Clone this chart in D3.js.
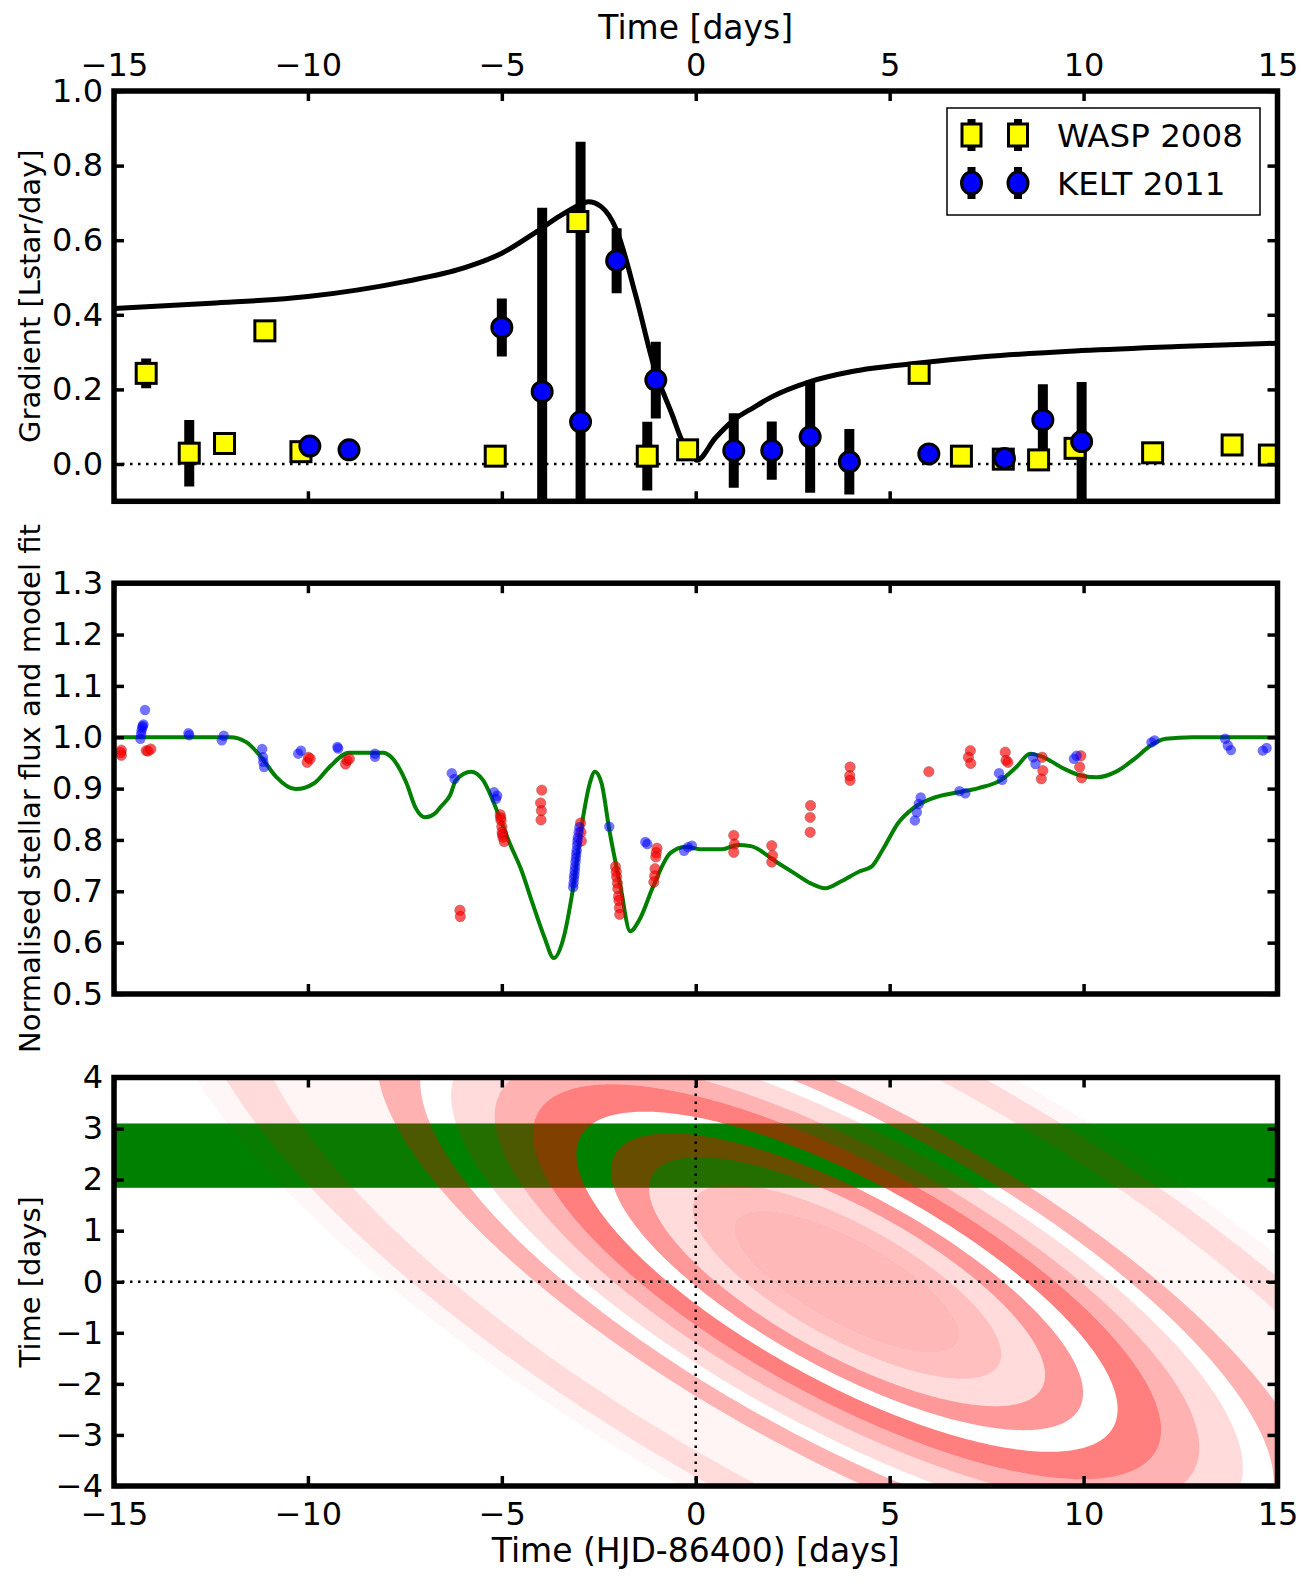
<!DOCTYPE html>
<meta charset="utf-8">
<script src="https://d3js.org/d3.v7.min.js"></script>
<style>
  body { margin: 0; background: #fff; }
  text { font-family: "DejaVu Sans", sans-serif; }
</style>
<div id="chart"></div>
<script>

// ---------------------------//
//            DATA            //
// ---------------------------//

const timeTicks = [-15, -10, -5, 0, 5, 10, 15];
const gradTicks = [0.0, 0.2, 0.4, 0.6, 0.8, 1.0];
const fluxTicks = [0.5, 0.6, 0.7, 0.8, 0.9, 1.0, 1.1, 1.2, 1.3];
const offsetTicks = [-4, -3, -2, -1, 0, 1, 2, 3, 4];

// gradient measurements: [time, gradient, error]
const waspGrad = [
  [-14.17, 0.243, 0.04], [-13.06, 0.029, 0.089], [-12.15, 0.055, 0.01], [-11.11, 0.357, 0.01],
  [-10.18, 0.033, 0.01], [-5.17, 0.021, 0.01], [-3.04, 0.65, 0.01], [-1.25, 0.021, 0.092],
  [-0.21, 0.038, 0.01], [5.76, 0.243, 0.01], [6.85, 0.021, 0.01], [7.93, 0.013, 0.01],
  [8.84, 0.011, 0.01], [9.78, 0.042, 0.01], [11.78, 0.030, 0.01], [13.83, 0.051, 0.01],
  [14.79, 0.024, 0.01]
];
const keltGrad = [
  [-9.95, 0.048, 0.01], [-8.94, 0.038, 0.01], [-5.0, 0.366, 0.078], [-3.96, 0.194, 0.493],
  [-2.97, 0.113, 0.751], [-2.04, 0.545, 0.087], [-1.03, 0.225, 0.103], [0.98, 0.036, 0.10],
  [1.96, 0.036, 0.078], [2.95, 0.073, 0.15], [3.96, 0.006, 0.088], [6.01, 0.027, 0.01],
  [7.96, 0.015, 0.01], [8.95, 0.118, 0.096], [9.95, 0.060, 0.16]
];

// model gradient curve
const modelGradT = [-15, -12.5, -10, -7.5, -6, -5, -4.1, -3.5, -3.0, -2.77, -2.44, -2.04, -1.54,
  -1.05, -0.6, -0.36, -0.1, 0.03, 0.5, 0.98, 1.5, 1.96, 2.95, 4.03, 5.7, 7.48, 9.95, 12.42, 15];
const modelGrad = [0.417, 0.431, 0.449, 0.489, 0.525, 0.565, 0.623, 0.665, 0.694, 0.703, 0.69, 0.627,
  0.449, 0.252, 0.13, 0.064, 0.025, 0.01, 0.069, 0.118, 0.152, 0.18, 0.221, 0.248, 0.27, 0.288,
  0.304, 0.315, 0.324];

// model light curve
const modelFluxT = [-15, -12.0, -11.6, -11.21, -10.82, -10.32, -9.83, -9.43, -8.94, -8.05, -7.86,
  -7.46, -7.22, -6.97, -6.72, -6.57, -6.33, -6.18, -5.79, -5.49, -5.1, -4.8, -4.5, -4.21, -3.91,
  -3.66, -3.42, -3.17, -2.93, -2.73, -2.6, -2.43, -2.23, -1.94, -1.69, -1.45, -1.1, -0.66, -0.26,
  0.11, 0.68, 1.07, 1.42, 2.06, 2.55, 2.95, 3.34, 3.74, 4.23, 4.53, 4.82, 5.22, 5.61, 6.1, 6.7,
  7.29, 7.88, 8.28, 8.62, 8.97, 9.46, 9.95, 10.35, 10.84, 11.33, 11.73, 12.12, 12.8, 15];
const modelFlux = [1.0, 1.0, 0.991, 0.962, 0.923, 0.899, 0.911, 0.943, 0.970, 0.970, 0.962,
  0.911, 0.862, 0.844, 0.852, 0.865, 0.888, 0.917, 0.933, 0.917, 0.852, 0.794, 0.742, 0.677, 0.612,
  0.57, 0.606, 0.703, 0.833, 0.911, 0.933, 0.911, 0.82, 0.709, 0.622, 0.645, 0.709, 0.774, 0.787,
  0.782, 0.782, 0.79, 0.788, 0.758, 0.735, 0.716, 0.706, 0.719, 0.739, 0.748, 0.781, 0.833, 0.862,
  0.881, 0.892, 0.901, 0.917, 0.943, 0.968, 0.961, 0.94, 0.925, 0.922, 0.933, 0.959, 0.984, 0.997,
  1.0, 1.0];

// photometry: [time, normalised flux]
const waspFlux = [
  [-14.81, 0.975], [-14.81, 0.965], [-14.83, 0.970], [-14.17, 0.974], [-14.12, 0.973],
  [-14.05, 0.977], [-9.99, 0.961], [-10.02, 0.951], [-9.94, 0.958], [-9.03, 0.948], [-8.99, 0.955],
  [-8.93, 0.958], [-6.08, 0.663], [-6.07, 0.651], [-5.04, 0.849], [-5.03, 0.843], [-5.02, 0.838],
  [-5.0, 0.826], [-4.99, 0.815], [-4.98, 0.810], [-4.97, 0.805], [-4.94, 0.797], [-3.97, 0.897],
  [-4.0, 0.872], [-3.98, 0.857], [-3.99, 0.839], [-2.97, 0.833], [-2.96, 0.815], [-2.95, 0.798],
  [-2.07, 0.748], [-2.05, 0.738], [-2.04, 0.728], [-2.02, 0.716], [-2.01, 0.705], [-1.99, 0.690],
  [-1.98, 0.682], [-1.97, 0.668], [-1.96, 0.655], [-1.0, 0.784], [-1.02, 0.775], [-1.03, 0.767],
  [-1.05, 0.744], [-1.06, 0.730], [-1.08, 0.718], [0.98, 0.809], [1.0, 0.792], [0.98, 0.776],
  [1.96, 0.789], [1.98, 0.77], [1.96, 0.757], [2.96, 0.867], [2.95, 0.844], [2.95, 0.815],
  [3.98, 0.942], [3.97, 0.925], [3.98, 0.916], [6.01, 0.933], [7.08, 0.974], [7.03, 0.961],
  [7.09, 0.949], [7.98, 0.971], [8.0, 0.955], [8.05, 0.951], [8.93, 0.961], [8.95, 0.935],
  [8.91, 0.919], [9.93, 0.964], [9.9, 0.942], [9.95, 0.921]
];
const keltFlux = [
  [-14.32, 0.997], [-14.3, 1.006], [-14.29, 1.013], [-14.27, 1.019], [-14.26, 1.022],
  [-14.24, 1.025], [-14.2, 1.053], [-13.08, 1.008], [-13.06, 1.004], [-12.22, 0.994],
  [-12.17, 1.003], [-11.18, 0.977], [-11.16, 0.961], [-11.13, 0.942], [-11.15, 0.952],
  [-10.25, 0.968], [-10.18, 0.974], [-9.24, 0.981], [-9.22, 0.978], [-8.27, 0.968], [-8.27, 0.962],
  [-6.29, 0.930], [-6.22, 0.919], [-5.2, 0.893], [-5.15, 0.880], [-5.12, 0.886], [-3.16, 0.708],
  [-3.15, 0.716], [-3.14, 0.725], [-3.13, 0.732], [-3.12, 0.740], [-3.11, 0.748], [-3.1, 0.757],
  [-3.09, 0.765], [-3.08, 0.773], [-3.07, 0.780], [-3.06, 0.790], [-3.05, 0.798], [-3.04, 0.805],
  [-3.02, 0.815], [-3.0, 0.825], [-2.23, 0.826], [-1.3, 0.796], [-1.25, 0.792], [-0.3, 0.779],
  [-0.2, 0.786], [-0.1, 0.789], [5.65, 0.838], [5.7, 0.854], [5.75, 0.870], [5.8, 0.883],
  [6.8, 0.895], [6.95, 0.891], [7.82, 0.930], [7.9, 0.917], [8.7, 0.961], [8.76, 0.948],
  [9.75, 0.958], [9.82, 0.964], [11.75, 0.990], [11.83, 0.994], [13.65, 0.997], [13.72, 0.984],
  [13.8, 0.975], [14.62, 0.974], [14.72, 0.979]
];

// ring model: outer edge of each ring (semi-major axis, days) and its opacity
const ringEdges = [3.1, 4.25, 5.45, 6.5, 7.45, 8.65, 9.7, 10.9, 11.75, 12.95, 16.4, 18.1, 19.2];
const ringTau   = [0.28, 0.25, 0.14, 0.40, 0.0, 0.50, 0.30, 0.14, 0.0, 0.30, 0.04, 0.14, 0.03];
const ringCentre = [3.9, 0.0];
const ringTilt = 21.4;        // degrees, major axis falling to the right
const ringAxisRatio = 0.2775; // b/a
const starBand = [1.84, 3.10];

// ---------------------------//
//          LAYOUT            //
// ---------------------------//

const W = 1314, H = 1585;
const svg = d3.select("#chart").append("svg")
  .attr("width", W).attr("height", H);

const x = d3.scaleLinear().domain([-15, 15]).range([114, 1277.5]);
const yGrad = d3.scaleLinear().domain([-0.1, 1.0]).range([501.3, 91]);
const yFlux = d3.scaleLinear().domain([0.5, 1.3]).range([994, 583.2]);
const yOff = d3.scaleLinear().domain([-4, 4]).range([1486, 1077.5]);

const fmtT = d3.format("d");
const tickFont = 32, labelFont = 33, yLabelFont = 29;

function clipFor(id, y) {
  svg.append("clipPath").attr("id", id)
    .append("rect")
      .attr("x", x.range()[0]).attr("y", y.range()[1])
      .attr("width", x.range()[1] - x.range()[0])
      .attr("height", y.range()[0] - y.range()[1]);
  return `url(#${id})`;
}

function styleAxis(g) {
  g.select(".domain").remove();
  g.selectAll(".tick line").attr("stroke", "black").attr("stroke-width", 3.5);
  g.attr("font-family", "DejaVu Sans").attr("font-size", tickFont);
  g.selectAll(".tick text").attr("fill", "black");
}

function drawFrame(y, yTicks, yFmt, topLabels, bottomLabels) {
  const g = svg.append("g");
  g.append("g").attr("transform", `translate(${x.range()[0]},0)`)
    .call(d3.axisLeft(y).tickValues(yTicks).tickFormat(yFmt).tickSize(-10).tickPadding(11))
    .call(styleAxis);
  g.append("g").attr("transform", `translate(${x.range()[1]},0)`)
    .call(d3.axisRight(y).tickValues(yTicks).tickFormat("").tickSize(-10))
    .call(styleAxis);
  g.append("g").attr("transform", `translate(0,${y.range()[1]})`)
    .call(d3.axisTop(x).tickValues(timeTicks).tickFormat(topLabels ? fmtT : "").tickSize(-10).tickPadding(15))
    .call(styleAxis);
  g.append("g").attr("transform", `translate(0,${y.range()[0]})`)
    .call(d3.axisBottom(x).tickValues(timeTicks).tickFormat(bottomLabels ? fmtT : "").tickSize(-10).tickPadding(16))
    .call(styleAxis);
  g.append("rect")
    .attr("x", x.range()[0]).attr("y", y.range()[1])
    .attr("width", x.range()[1] - x.range()[0])
    .attr("height", y.range()[0] - y.range()[1])
    .attr("fill", "none").attr("stroke", "black").attr("stroke-width", 5.5);
}

function yLabel(text, y) {
  const cy = (y.range()[0] + y.range()[1]) / 2;
  svg.append("text")
    .attr("transform", `translate(40,${cy}) rotate(-90)`)
    .attr("text-anchor", "middle")
    .attr("font-size", yLabelFont)
    .text(text);
}

function dotted(g, x1, y1, x2, y2) {
  g.append("line")
    .attr("x1", x1).attr("y1", y1).attr("x2", x2).attr("y2", y2)
    .attr("stroke", "black").attr("stroke-width", 2.5)
    .attr("stroke-dasharray", "2.5,5.5");
}

// ---------------------------//
//     PANEL 1: GRADIENTS     //
// ---------------------------//

const g1 = svg.append("g").attr("clip-path", clipFor("clip1", yGrad));
dotted(g1, x(-15), yGrad(0), x(15), yGrad(0));

// error bars sit under all markers
g1.selectAll(".errbar")
  .data(waspGrad.concat(keltGrad))
  .join("line")
    .attr("x1", d => x(d[0])).attr("x2", d => x(d[0]))
    .attr("y1", d => yGrad(d[1] - d[2])).attr("y2", d => yGrad(d[1] + d[2]))
    .attr("stroke", "black").attr("stroke-width", 10);

g1.append("path")
  .datum(modelGradT.map((t, i) => [t, modelGrad[i]]))
  .attr("fill", "none").attr("stroke", "black").attr("stroke-width", 5)
  .attr("d", d3.line().x(d => x(d[0])).y(d => yGrad(d[1])).curve(d3.curveMonotoneX));

g1.selectAll(".wasp")
  .data(waspGrad)
  .join("rect")
    .attr("x", d => x(d[0]) - 10).attr("y", d => yGrad(d[1]) - 10)
    .attr("width", 20).attr("height", 20)
    .attr("fill", "#ffff00").attr("stroke", "black").attr("stroke-width", 3);

g1.selectAll(".kelt")
  .data(keltGrad)
  .join("circle")
    .attr("cx", d => x(d[0])).attr("cy", d => yGrad(d[1]))
    .attr("r", 10)
    .attr("fill", "#0000ff").attr("stroke", "black").attr("stroke-width", 3);

drawFrame(yGrad, gradTicks, d3.format(".1f"), true, false);

svg.append("text")
  .attr("x", x(0)).attr("y", 39)
  .attr("text-anchor", "middle").attr("font-size", labelFont)
  .text("Time [days]");
yLabel("Gradient [Lstar/day]", yGrad);

// legend
const leg = svg.append("g");
leg.append("rect")
  .attr("x", 947).attr("y", 108).attr("width", 313).attr("height", 107)
  .attr("fill", "white").attr("stroke", "black").attr("stroke-width", 1.5);
const legendItems = [
  {label: "WASP 2008", y: 135, shape: "square", fill: "#ffff00"},
  {label: "KELT 2011", y: 183, shape: "circle", fill: "#0000ff"}
];
legendItems.forEach(item => {
  [971.5, 1018].forEach(mx => {
    leg.append("line")
      .attr("x1", mx).attr("x2", mx).attr("y1", item.y - 16).attr("y2", item.y + 16)
      .attr("stroke", "black").attr("stroke-width", 8);
    if (item.shape === "square") {
      leg.append("rect")
        .attr("x", mx - 9.5).attr("y", item.y - 11).attr("width", 19).attr("height", 22)
        .attr("fill", item.fill).attr("stroke", "black").attr("stroke-width", 3);
    } else {
      leg.append("ellipse")
        .attr("cx", mx).attr("cy", item.y).attr("rx", 10).attr("ry", 11)
        .attr("fill", item.fill).attr("stroke", "black").attr("stroke-width", 3);
    }
  });
  leg.append("text")
    .attr("x", 1057).attr("y", item.y + 11.5)
    .attr("font-size", 32.5)
    .text(item.label);
});

// ---------------------------//
//     PANEL 2: LIGHT CURVE   //
// ---------------------------//

const g2 = svg.append("g").attr("clip-path", clipFor("clip2", yFlux));
g2.append("path")
  .datum(modelFluxT.map((t, i) => [t, modelFlux[i]]))
  .attr("fill", "none").attr("stroke", "#008000").attr("stroke-width", 4)
  .attr("d", d3.line().x(d => x(d[0])).y(d => yFlux(d[1])).curve(d3.curveMonotoneX));

g2.selectAll(".wflux")
  .data(waspFlux)
  .join("circle")
    .attr("cx", d => x(d[0])).attr("cy", d => yFlux(d[1]))
    .attr("r", 5.2).attr("fill", "#ff0000")
    .attr("stroke", "#600000").attr("stroke-width", 0.5)
    .attr("opacity", 0.65);

g2.selectAll(".kflux")
  .data(keltFlux)
  .join("circle")
    .attr("cx", d => x(d[0])).attr("cy", d => yFlux(d[1]))
    .attr("r", 5.2).attr("fill", "#0000ff")
    .attr("opacity", 0.55);

drawFrame(yFlux, fluxTicks, d3.format(".1f"), false, false);
yLabel("Normalised stellar flux and model fit", yFlux);

// ---------------------------//
//     PANEL 3: RING MODEL    //
// ---------------------------//

const g3 = svg.append("g").attr("clip-path", clipFor("clip3", yOff));

g3.append("rect")
  .attr("x", x(-15)).attr("width", x(15) - x(-15))
  .attr("y", yOff(starBand[1])).attr("height", yOff(starBand[0]) - yOff(starBand[1]))
  .attr("fill", "#008000");

const tilt = ringTilt * Math.PI / 180;
function ellipsePoints(a) {
  return d3.range(0, 360, 1).map(deg => {
    const t = deg * Math.PI / 180;
    const u = a * Math.cos(t), v = a * ringAxisRatio * Math.sin(t);
    return [ringCentre[0] + u * Math.cos(tilt) + v * Math.sin(tilt),
            ringCentre[1] - u * Math.sin(tilt) + v * Math.cos(tilt)];
  });
}
const ellipseLine = d3.line()
  .x(d => x(d[0])).y(d => yOff(d[1]))
  .curve(d3.curveLinearClosed);

const rings = ringEdges.map((outer, i) => ({
  inner: i === 0 ? 0 : ringEdges[i - 1], outer: outer, tau: ringTau[i]
})).filter(r => r.tau > 0);

g3.selectAll(".ring")
  .data(rings)
  .join("path")
    .attr("d", r => ellipseLine(ellipsePoints(r.outer)) +
                    (r.inner > 0 ? ellipseLine(ellipsePoints(r.inner)) : ""))
    .attr("fill-rule", "evenodd")
    .attr("fill", "#ff0000")
    .attr("fill-opacity", r => r.tau);

dotted(g3, x(-15), yOff(0), x(15), yOff(0));
dotted(g3, x(0), yOff(4), x(0), yOff(-4));

drawFrame(yOff, offsetTicks, fmtT, false, true);

svg.append("text")
  .attr("x", x(0)).attr("y", 1562)
  .attr("text-anchor", "middle").attr("font-size", labelFont)
  .text("Time (HJD-86400) [days]");
yLabel("Time [days]", yOff);

</script>
